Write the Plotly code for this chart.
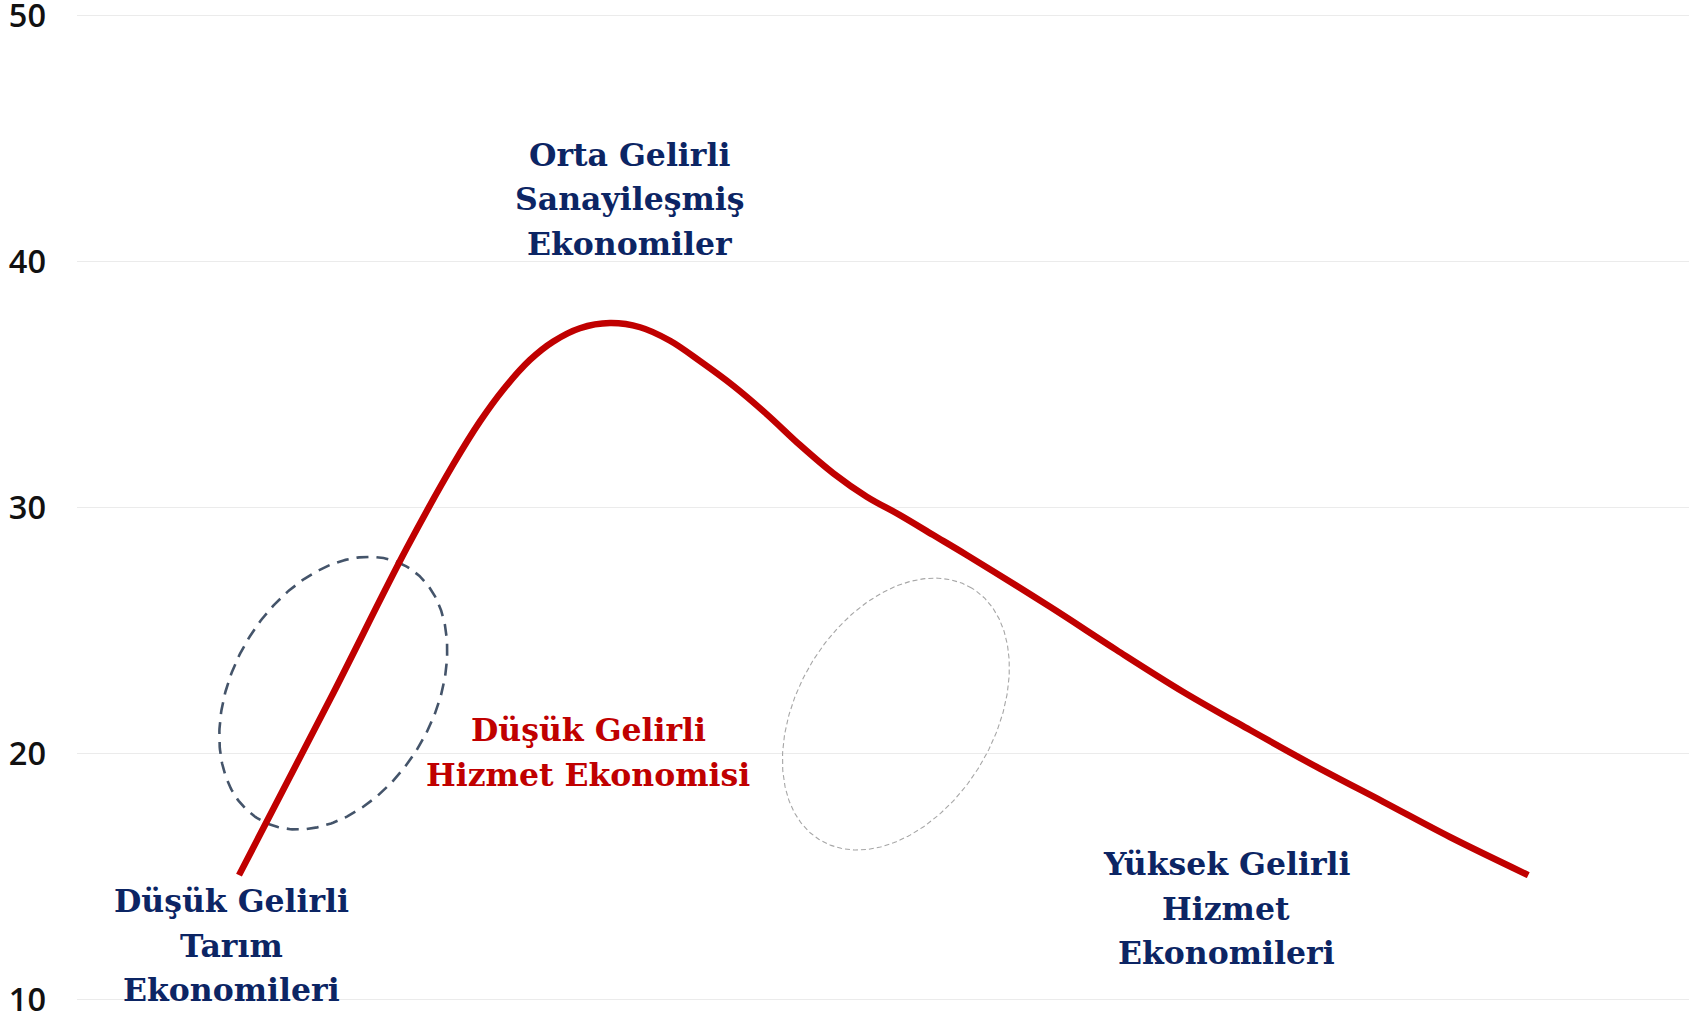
import numpy as np
import plotly.graph_objects as go

# ---- data ----
curve_x = [10.05, 15.70, 20.45, 23.34, 25.00, 26.45, 28.10, 29.55, 31.20, 33.06,
           34.93, 36.79, 38.65, 40.71, 42.78, 44.85, 46.92, 48.99, 51.05, 53.12, 55.19, 60.36,
           64.50, 68.63, 72.77, 76.90, 81.04, 85.17, 90.03]
curve_y = [15.05, 22.20, 28.34, 31.75, 33.50, 34.80, 36.00, 36.75, 37.29, 37.50,
           37.33, 36.78, 35.95, 34.95, 33.80, 32.54, 31.39, 30.44, 29.69, 28.88, 28.07, 25.96,
           24.20, 22.50, 20.95, 19.45, 18.03, 16.60, 15.05]

y_ticks = [10, 20, 30, 40, 50]

# ellipses: center (data units), semi-axes (px), tilt (deg)
ell_center_x = [15.9, 50.8]
ell_center_y = [22.45, 21.6]
ell_a = [146.3, 147.0]
ell_b = [100.8, 98.6]
ell_angle = [59.85, 59.0]
ell_color = ["#44546a", "#a6a6a6"]
ell_width = [2.6, 1.1]
ell_dash = ["12px,8px", "5px,3px"]

# text labels
label_lines = [
    ["Orta Gelirli", "Sanayileşmiş", "Ekonomiler"],
    ["Düşük Gelirli", "Hizmet Ekonomisi"],
    ["Düşük Gelirli", "Tarım", "Ekonomileri"],
    ["Yüksek Gelirli", "Hizmet", "Ekonomileri"],
]
label_x = [34.3, 31.7, 9.6, 71.3]
label_y = [42.55, 20.05, 12.2, 13.7]
label_color = ["#0c2564", "#c00000", "#0c2564", "#0c2564"]

# ---- layout geometry ----
W, H = 1703, 1014
ML, MR = 77, 14
X_RANGE = [0, 100]
Y_RANGE = [9.85, 50.15]
PX_PER_Y = 24.575
MT = 16 - (Y_RANGE[1] - 50) * PX_PER_Y
MB = H - (999 + (10 - Y_RANGE[0]) * PX_PER_Y)
px_per_x = (W - ML - MR) / (X_RANGE[1] - X_RANGE[0])
px_per_y = (H - MT - MB) / (Y_RANGE[1] - Y_RANGE[0])

fig = go.Figure()

t = np.linspace(0, 2 * np.pi, 361)
for cx, cy, a, b, ang, col, w, d in zip(ell_center_x, ell_center_y, ell_a, ell_b,
                                         ell_angle, ell_color, ell_width, ell_dash):
    th = np.radians(ang)
    dx = a * np.cos(t) * np.cos(th) - b * np.sin(t) * np.sin(th)
    dy = a * np.cos(t) * np.sin(th) + b * np.sin(t) * np.cos(th)
    fig.add_trace(go.Scatter(x=cx + dx / px_per_x, y=cy + dy / px_per_y, mode="lines",
                             line=dict(color=col, width=w, dash=d),
                             hoverinfo="skip", showlegend=False))

fig.add_trace(go.Scatter(x=curve_x, y=curve_y, mode="lines",
                         line=dict(color="#c00000", width=6.5, shape="spline", smoothing=1.0),
                         showlegend=False))

LINE_SP = 44.5
for lines, lx, ly, col in zip(label_lines, label_x, label_y, label_color):
    n = len(lines)
    for i, txt in enumerate(lines):
        fig.add_annotation(x=lx, y=ly, xref="x", yref="y", text=txt, showarrow=False,
                           xanchor="center", yanchor="middle",
                           yshift=((n - 1) / 2 - i) * LINE_SP,
                           font=dict(family="DejaVu Serif", size=31.5, color=col, weight="bold"))

fig.update_layout(
    width=W, height=H,
    margin=dict(l=ML, r=MR, t=MT, b=MB, autoexpand=False),
    paper_bgcolor="white", plot_bgcolor="white",
    xaxis=dict(range=X_RANGE, visible=False, showgrid=False, zeroline=False, automargin=False),
    yaxis=dict(range=Y_RANGE, tickvals=y_ticks, showgrid=True, gridcolor="#ebebeb",
               gridwidth=1, zeroline=False, showline=False, ticks="", automargin=False,
               ticklabelstandoff=30, ticklabeloverflow="allow",
               tickfont=dict(family="Open Sans", size=32.5, color="#111111", weight=600)),
)

fig.write_html("out.html", config={"displayModeBar": False},
               post_script="document.body.style.margin='0';document.body.style.overflow='hidden';")
